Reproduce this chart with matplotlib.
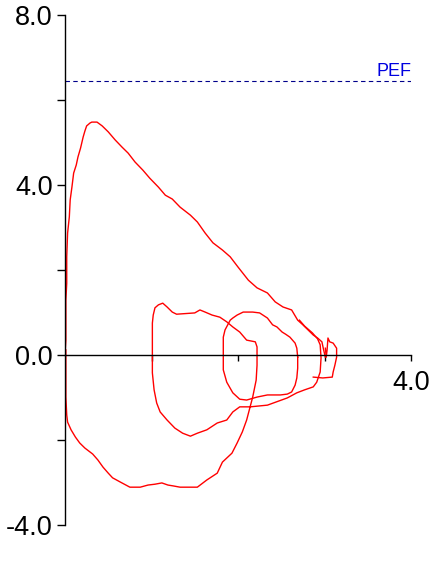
import matplotlib
matplotlib.use('Agg')
import matplotlib.pyplot as plt

plt.rcParams['font.family'] = ['Liberation Sans', 'DejaVu Sans']

# Forced expiration (volume L, flow L/s)
exp_vol = [0.00, 0.01, 0.01, 0.02, 0.02, 0.03, 0.05, 0.06, 0.08, 0.10, 0.13, 0.15,
           0.18, 0.21, 0.23, 0.25, 0.29, 0.31, 0.37, 0.43, 0.50, 0.58, 0.66, 0.73,
           0.81, 0.90, 0.98, 1.08, 1.16, 1.24, 1.33, 1.45, 1.53, 1.62, 1.71, 1.82,
           1.91, 2.00, 2.12, 2.22, 2.34, 2.43, 2.52, 2.62, 2.69, 2.75, 2.81, 2.87,
           2.92, 2.97, 2.99, 3.01]
exp_flow = [0.00, 0.35, 1.29, 1.69, 2.31, 2.87, 3.25, 3.65, 3.95, 4.28, 4.47, 4.66,
            4.87, 5.13, 5.27, 5.39, 5.46, 5.48, 5.48, 5.39, 5.25, 5.06, 4.89, 4.75,
            4.54, 4.35, 4.16, 3.95, 3.76, 3.67, 3.48, 3.29, 3.13, 2.87, 2.64, 2.47,
            2.31, 2.07, 1.76, 1.58, 1.46, 1.25, 1.13, 1.06, 0.82, 0.71, 0.59, 0.47,
            0.40, 0.31, 0.12, -0.05]

# Inspiration + tidal loop
insp_vol = [0.01, 0.01, 0.02, 0.03, 0.07, 0.12, 0.17, 0.23, 0.32, 0.38, 0.44, 0.50,
            0.55, 0.64, 0.75, 0.87, 0.96, 1.04, 1.12, 1.19, 1.25, 1.33, 1.41, 1.53,
            1.64, 1.76, 1.82, 1.93, 1.99, 2.05, 2.10, 2.14, 2.17, 2.21, 2.22, 2.22,
            2.20, 2.10, 2.02, 1.94, 1.87, 1.79, 1.70, 1.62, 1.56, 1.50, 1.29, 1.24,
            1.18, 1.13, 1.08, 1.04, 1.02, 1.01, 1.01, 1.01, 1.03, 1.06, 1.10, 1.18,
            1.27, 1.36, 1.45, 1.53, 1.64, 1.76, 1.87, 1.94, 2.02, 2.14, 2.34, 2.57,
            2.68, 2.77, 2.87, 2.91, 2.95, 2.96, 2.95, 2.92, 2.86, 2.77, 2.71]
insp_flow = [0.12, -0.99, -1.41, -1.58, -1.76, -1.93, -2.07, -2.19, -2.33, -2.47, -2.64, -2.78,
             -2.89, -2.99, -3.11, -3.11, -3.06, -3.04, -3.01, -3.06, -3.08, -3.11, -3.11, -3.11,
             -2.94, -2.78, -2.52, -2.31, -2.07, -1.81, -1.53, -1.22, -0.99, -0.59, -0.24, 0.19,
             0.31, 0.35, 0.54, 0.66, 0.78, 0.89, 0.94, 1.01, 1.06, 0.99, 0.96, 1.01,
             1.13, 1.22, 1.18, 1.11, 0.94, 0.75, -0.05, -0.42, -0.82, -1.13, -1.34, -1.53,
             -1.72, -1.84, -1.91, -1.84, -1.76, -1.60, -1.53, -1.34, -1.22, -1.22, -1.18, -1.01,
             -0.89, -0.82, -0.75, -0.64, -0.40, -0.07, 0.24, 0.38, 0.52, 0.68, 0.82]

# Tidal loop around 2 L
tid_vol = [2.69, 2.69, 2.68, 2.66, 2.62, 2.57, 2.49, 2.34, 2.22, 2.10, 2.02, 1.94,
           1.87, 1.83, 1.83, 1.83, 1.85, 1.91, 1.94, 1.99, 2.06, 2.17, 2.25, 2.34,
           2.40, 2.45, 2.51, 2.55, 2.60, 2.66, 2.68, 2.69]
tid_flow = [-0.05, -0.31, -0.54, -0.71, -0.87, -0.92, -0.94, -0.94, -0.99, -1.06, -1.04, -0.89,
            -0.64, -0.35, -0.05, 0.42, 0.59, 0.82, 0.87, 0.94, 1.01, 1.01, 0.99, 0.87,
            0.71, 0.66, 0.54, 0.49, 0.42, 0.28, 0.16, -0.05]

# Small loop at end of expiration
end_vol = [2.87, 2.98, 3.09, 3.10, 3.12, 3.14, 3.14, 3.10, 3.06, 3.04, 3.03, 3.02, 3.01]
end_flow = [-0.52, -0.54, -0.52, -0.40, -0.24, -0.05, 0.16, 0.28, 0.31, 0.40, 0.12, -0.05, 0.16]

pef = 6.45

fig = plt.figure(figsize=(4.38, 5.65), dpi=100)
ax = fig.add_axes([65 / 438, 40 / 565, 346 / 438, 510 / 565])

for v, f in [(exp_vol, exp_flow), (insp_vol, insp_flow), (tid_vol, tid_flow), (end_vol, end_flow)]:
    ax.plot(v, f, color='#ff0000', lw=1.0)

ax.axhline(pef, xmin=0, xmax=1, color='#00008b', lw=0.8, dashes=(4, 3))
ax.text(4.0, pef + 0.12, 'PEF', color='#0000e0', fontsize=13, ha='right', va='baseline')

ax.set_xlim(0, 4)
ax.set_ylim(-4, 8)
ax.spines['top'].set_visible(False)
ax.spines['right'].set_visible(False)
ax.spines['bottom'].set_position(('data', 0))
for s in ['left', 'bottom']:
    ax.spines[s].set_linewidth(1.0)

ax.set_yticks([-4, -2, 0, 2, 4, 6, 8])
ax.set_yticklabels(['-4.0', '', '0.0', '', '4.0', '', '8.0'])
ax.set_xticks([1, 2, 3, 4])
ax.set_xticklabels(['', '', '', '4.0'])
ax.tick_params(axis='y', length=6, width=1, pad=3, labelsize=19.5)
ax.tick_params(axis='x', length=4.5, width=1, pad=6.5, labelsize=19.5)

fig.savefig('out.png', dpi=100)
